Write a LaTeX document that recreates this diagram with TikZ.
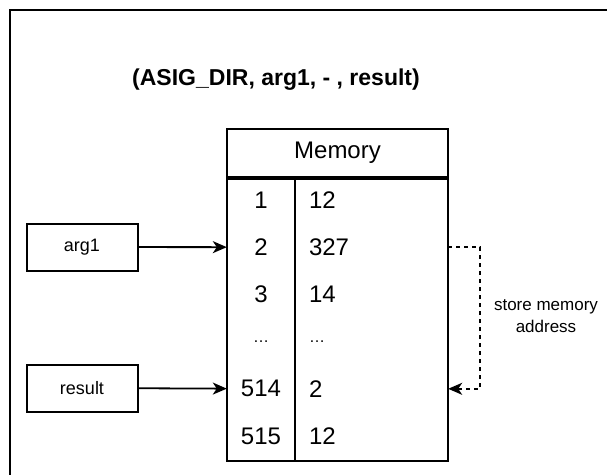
\documentclass[tikz,border=0pt]{standalone}
\usepackage{fontspec}
\setmainfont{Liberation Sans}
\usetikzlibrary{arrows.meta}

\tikzset{
    x={1pt},
    y={-1pt},
    outer frame/.style={
        draw,
        line width={2.5pt},
    },
    title label/.style={
        font={\fontsize{23}{27}\selectfont\bfseries},
    },
    var box/.style={
        draw, rectangle,
        line width={2pt},
        minimum width={111},
        minimum height={47},
        font={\fontsize{18}{21}\selectfont},
    },
    table line/.style={
        draw,
        line width={2pt},
    },
    mem cell/.style={
        inner sep=0pt,
        minimum height={47},
        font={\fontsize{24}{28}\selectfont},
    },
    addr cell/.style={
        mem cell,
        minimum width={68},
    },
    value cell/.style={
        mem cell,
        inner xsep={14},
        text width={125},
        align=left,
    },
    pointer/.style={
        draw,
        line width={1.8pt},
        -{Stealth[length=14pt,width=12pt,inset=4pt]},
    },
    store pointer/.style={
        pointer,
        dash pattern={on 4pt off 4pt},
    },
    note/.style={
        align=center,
        fill=white,
        font={\fontsize{17}{22}\selectfont},
    },
}
\newcommand\rowdots{{\fontsize{16}{19}\selectfont\textellipsis}}

\begin{document}
\begin{tikzpicture}
\useasboundingbox (0,0) rectangle (607,474);
\clip (0,0) rectangle (607,474);
% frame
\path[outer frame] (10,10) rectangle (660,520);
% title
\node[title label] (title) at (276,80) {(ASIG\_DIR, arg1, - , result)};
% memory table
\node[table line, minimum width={221}, minimum height={48}, inner sep=0pt,
      font={\fontsize{24}{28}\selectfont}] (memory) at (337.5,153) {Memory};
\node[table line, minimum width={221}, minimum height={282}, inner sep=0pt,
      anchor=north] (mem body) at (memory.south) {};
\foreach \addr/\val [count=\i] in {1/12, 2/327, 3/14, \rowdots/\rowdots, 514/2, 515/12} {
    \node[addr cell] (addr-\i) at (261,{200+47.2*(\i-1)}) {\addr};
    \node[value cell] (val-\i) at (371.5,{200+47.2*(\i-1)}) {\val};
}
\path[table line] (mem body.north -| addr-1.east) -- (mem body.south -| addr-1.east);
% variables
\node[var box] (arg1) at (82,247) {arg1};
\node[var box] (result) at (82,388) {result};
\path[pointer] (arg1) -- (addr-2);
\path[pointer] (result) -- (addr-5);
% store address
\path[store pointer] (val-2.east) -- ++(32,0) |- (val-5.east);
\node[note] (store) at (546,316) {store memory\\address};
\end{tikzpicture}
\end{document}
